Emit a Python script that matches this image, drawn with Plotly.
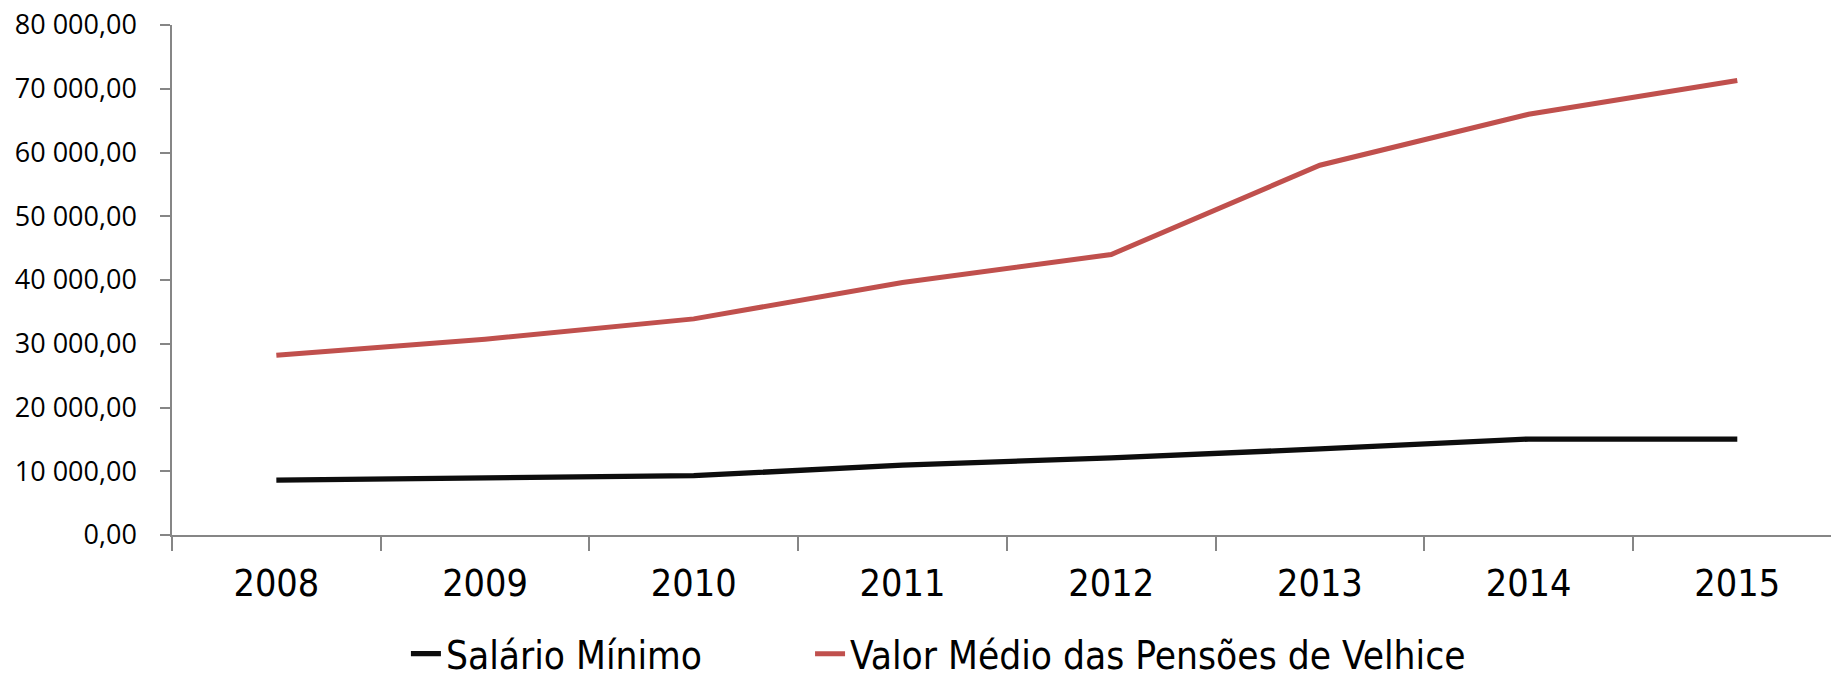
import plotly.graph_objects as go

years = ["2008", "2009", "2010", "2011", "2012", "2013", "2014", "2015"]
salario_minimo = [8600, 8850, 9300, 10950, 12100, 13500, 15050, 15050]
pensoes_velhice = [28200, 30700, 33900, 39600, 44000, 58000, 66000, 71300]
y_ticks = [0, 10000, 20000, 30000, 40000, 50000, 60000, 70000, 80000]

fig = go.Figure()
fig.add_trace(go.Scatter(
    x=years, y=salario_minimo, mode="lines", name="Salário Mínimo",
    line=dict(color="#0D0D0D", width=5.3), legend="legend",
))
fig.add_trace(go.Scatter(
    x=years, y=pensoes_velhice, mode="lines", name="Valor Médio das Pensões de Velhice",
    line=dict(color="#C0504D", width=5), legend="legend2",
))

legend_font = dict(family="DejaVu Sans Condensed", size=38.5, color="#000000")

fig.update_layout(
    width=1831, height=680,
    margin=dict(l=172, r=0, t=25, b=145, autoexpand=False),
    paper_bgcolor="white", plot_bgcolor="white",
    separators=", ",
    showlegend=True,
    legend=dict(
        orientation="h", x=0.141, xanchor="left",
        yref="container", y=0.038, yanchor="middle",
        font=legend_font, bgcolor="rgba(0,0,0,0)",
    ),
    legend2=dict(
        orientation="h", x=0.3846, xanchor="left",
        yref="container", y=0.038, yanchor="middle",
        font=legend_font, bgcolor="rgba(0,0,0,0)",
    ),
)
fig.update_xaxes(
    type="category", range=[-0.5, 7.449], automargin=False,
    showline=True, linecolor="#868686", linewidth=1.5,
    ticks="outside", ticklen=14, tickcolor="#868686", tickwidth=1.5,
    tickson="boundaries",
    showgrid=False, zeroline=False,
    tickfont=dict(family="DejaVu Sans Condensed", size=37.5, color="#000000"),
    ticklabelstandoff=14,
)
fig.update_yaxes(
    range=[0, 80000], tickvals=y_ticks, tickformat=",.2f", automargin=False,
    showline=True, linecolor="#868686", linewidth=1.5,
    ticks="outside", ticklen=10, tickcolor="#868686", tickwidth=1.5,
    showgrid=False, zeroline=False,
    tickfont=dict(family="Open Sans", size=27, color="#000000"),
    ticklabelstandoff=18,
)

fig.write_html(
    "out.html",
    config={"displayModeBar": False},
    post_script="document.body.style.margin='0';document.body.style.overflow='hidden';",
)
